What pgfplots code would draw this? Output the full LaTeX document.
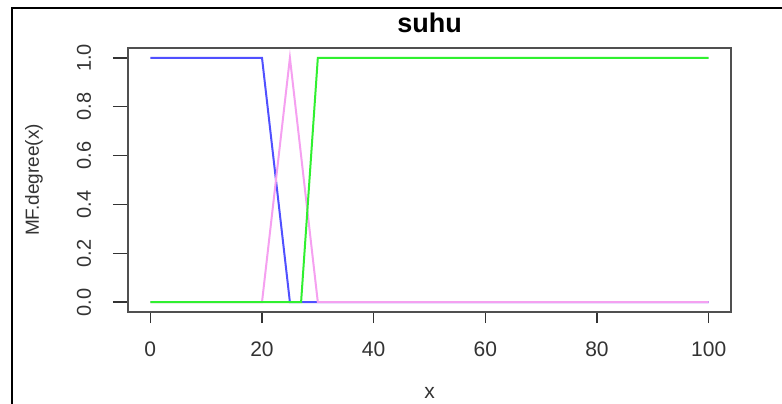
\documentclass[border=0pt]{standalone}
\usepackage{pgfplots}
\pgfplotsset{compat=1.18}
\usepackage{fontspec}
\setmainfont{Liberation Sans}
\setsansfont{Liberation Sans}

\definecolor{mfblue}{HTML}{5050FF}
\definecolor{mfpink}{HTML}{F5A0F0}
\definecolor{mfgreen}{HTML}{30F030}
\definecolor{boxc}{HTML}{505050}

\begin{document}
\begin{tikzpicture}
  \useasboundingbox (0,0) rectangle (391pt,201.5pt);
  \clip (0,0) rectangle (391pt,201.5pt);
  \draw[line width=1pt] (6.15pt,-2pt) -- (6.15pt,197.65pt) -- (393pt,197.65pt);
  \begin{axis}[
      at={(64pt,45.5pt)}, anchor=south west,
      scale only axis, width=301.5pt, height=132pt,
      xmin=-4, xmax=104, ymin=-0.04, ymax=1.04,
      /pgf/number format/assume math mode=true,
      xtick={0,20,40,60,80,100},
      ytick={0,0.2,0.4,0.6,0.8,1.0},
      yticklabels={0.0,0.2,0.4,0.6,0.8,1.0},
      xtick pos=left, ytick pos=left,
      tick align=outside,
      xtick style={/pgfplots/major tick length=5.5pt, draw=black!80, line width=0.8pt},
      ytick style={/pgfplots/major tick length=7.5pt, draw=black!80, line width=0.8pt},
      axis line style={draw=boxc, line width=0.9pt},
      xticklabel style={font=\fontsize{10.5}{12}\selectfont, text=black!80, anchor=north, inner sep=0pt},
      yticklabel style={font=\fontsize{10}{12}\selectfont, text=black!80, rotate=90, anchor=south, inner sep=0pt},
      xticklabel shift=10.5pt,
      yticklabel shift=14pt,
      xlabel={x},
      ylabel={MF.degree(x)},
      xlabel style={font=\fontsize{10.5}{12}\selectfont, text=black!80, at={(axis description cs:0.5,-0.305)}, anchor=center},
      ylabel style={font=\fontsize{9.5}{12}\selectfont, text=black!80, at={(axis description cs:-0.156,0.5)}, anchor=center},
      clip=false,
    ]
    \addplot[mfblue, line width=1pt] coordinates {(0,1) (20,1) (25,0) (100,0)};
    \addplot[mfpink, line width=1pt] coordinates {(0,0) (20,0) (25,1) (30,0) (100,0)};
    \addplot[mfgreen, line width=1pt] coordinates {(0,0) (27,0) (30,1) (100,1)};
    \node[font=\fontsize{13.5}{15}\selectfont\bfseries, anchor=base] at (rel axis cs:0.5,1.057) {suhu};
  \end{axis}
\end{tikzpicture}
\end{document}
